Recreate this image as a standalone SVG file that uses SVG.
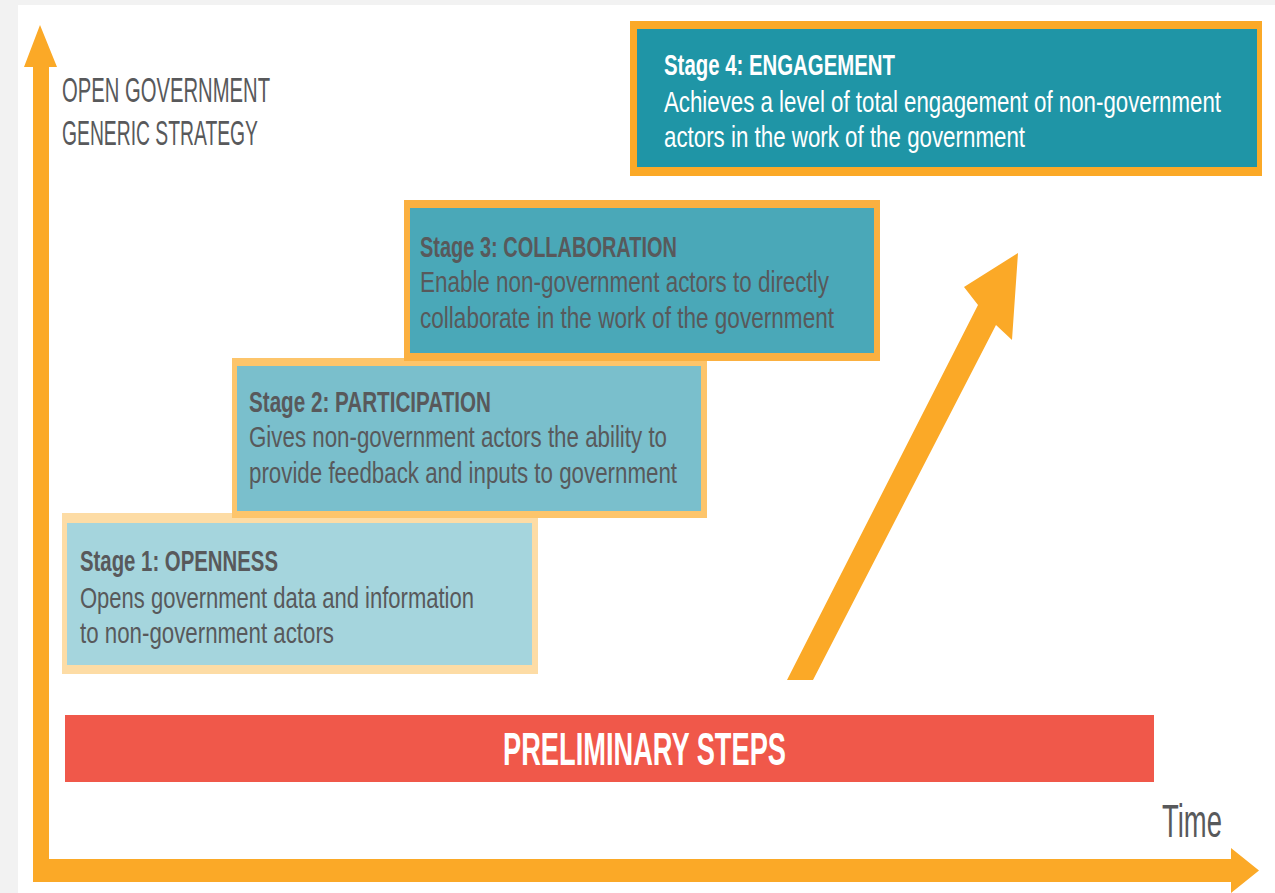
<svg xmlns="http://www.w3.org/2000/svg" width="1275" height="893" viewBox="0 0 1275 893">
<style>
.t{font-family:"Liberation Sans",Arial,sans-serif;fill:#58595B}
.h{font-weight:bold;font-size:29px}
.b{font-size:29px}
.w{fill:#FFFFFF}
.arrow{fill:#FBA927}
</style>
<rect x="0" y="0" width="1275" height="893" fill="#F2F2F2"/>
<rect x="18" y="5" width="1257" height="888" fill="#FFFFFF"/>

<g id="title">
<text class="t" x="62" y="102" font-size="35" textLength="208" lengthAdjust="spacingAndGlyphs">OPEN GOVERNMENT</text>
<text class="t" x="62" y="145" font-size="35" textLength="196" lengthAdjust="spacingAndGlyphs">GENERIC STRATEGY</text>
</g>

<g id="connectors">
<path class="arrow" d="M33,882 L33,67 L24,67 L40,25 L57,67 L49,67 L49,859 L1231,859 L1231,848 L1259,870.5 L1231,893 L1231,882 Z"/>
<polygon class="arrow" points="787,680 978,305 964,287 1018,253 1012,340 996,325 813,680"/>
</g>

<g id="preliminary">
<rect x="65" y="715" width="1089" height="67" fill="#F0584A"/>
<text x="644.5" y="765" text-anchor="middle" font-family="'Liberation Sans',Arial,sans-serif" font-weight="bold" font-size="46" fill="#FFFFFF" textLength="283" lengthAdjust="spacingAndGlyphs">PRELIMINARY STEPS</text>
</g>

<g id="stage1">
<rect x="62" y="513" width="476" height="161" fill="#FDDCA5"/>
<rect x="67" y="523" width="465" height="142" fill="#A5D5DD"/>
<text class="t h" x="80" y="571" textLength="198" lengthAdjust="spacingAndGlyphs">Stage 1: OPENNESS</text>
<text class="t b" x="80" y="608" textLength="394" lengthAdjust="spacingAndGlyphs">Opens government data and information</text>
<text class="t b" x="80" y="643" textLength="254" lengthAdjust="spacingAndGlyphs">to non-government actors</text>
</g>

<g id="stage2">
<rect x="232" y="358" width="475" height="160" fill="#FDC56B"/>
<rect x="237" y="366" width="464" height="145" fill="#7ABFCC"/>
<text class="t h" x="249" y="412" textLength="242" lengthAdjust="spacingAndGlyphs">Stage 2: PARTICIPATION</text>
<text class="t b" x="249" y="447" textLength="418" lengthAdjust="spacingAndGlyphs">Gives non-government actors the ability to</text>
<text class="t b" x="249" y="483" textLength="428" lengthAdjust="spacingAndGlyphs">provide feedback and inputs to government</text>
</g>

<g id="stage3">
<rect x="404" y="200" width="476" height="161" fill="#FBB040"/>
<rect x="410" y="208" width="464" height="145" fill="#4AA8B8"/>
<text class="t h" x="420" y="257" textLength="257" lengthAdjust="spacingAndGlyphs">Stage 3: COLLABORATION</text>
<text class="t b" x="420" y="292" textLength="409" lengthAdjust="spacingAndGlyphs">Enable non-government actors to directly</text>
<text class="t b" x="420" y="328" textLength="414" lengthAdjust="spacingAndGlyphs">collaborate in the work of the government</text>
</g>

<g id="stage4">
<rect x="630" y="21" width="632" height="155" fill="#FBA927"/>
<rect x="637" y="29" width="620" height="138" fill="#1F95A6"/>
<text class="t h w" x="664" y="75" textLength="231" lengthAdjust="spacingAndGlyphs">Stage 4: ENGAGEMENT</text>
<text class="t b w" transform="translate(664,112) scale(0.72,1)" x="0" y="0" textLength="773.6" lengthAdjust="spacingAndGlyphs">Achieves a level of total engagement of non-government</text>
<text class="t b w" x="664" y="147" textLength="361" lengthAdjust="spacingAndGlyphs">actors in the work of the government</text>
</g>

<g id="time-label">
<text class="t" x="1162" y="837" font-size="47" textLength="60" lengthAdjust="spacingAndGlyphs">Time</text>
</g>
</svg>
